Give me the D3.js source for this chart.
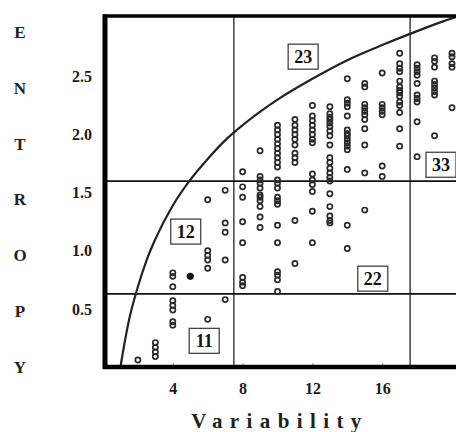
<!DOCTYPE html>
<html>
<head>
<meta charset="utf-8">
<script src="https://cdn.jsdelivr.net/npm/d3@7"></script>
<style>
  body { margin: 0; background: #fff; }
  svg { display: block; }
  .tick text { font-family: "Liberation Serif", "Times New Roman", serif; font-weight: bold; font-size: 16px; fill: #1a1a1a; }
  .tick line { stroke: #888; }
  .zone text { font-family: "Liberation Serif", "Times New Roman", serif; font-weight: bold; font-size: 18px; fill: #111; }
</style>
</head>
<body>
<div id="chart"></div>
<script>
// variability columns and the entropy values read in each column
const variability = [2, 3, 4, 6, 7, 8, 9, 10, 11, 12, 13, 14, 15, 16, 17, 18, 19, 20];
const entropy = [
  [0.06],
  [0.09, 0.13, 0.17, 0.21],
  [0.81, 0.78, 0.69, 0.57, 0.53, 0.49, 0.39, 0.36],
  [1.44, 1.00, 0.96, 0.92, 0.85, 0.41],
  [1.52, 1.24, 1.16, 0.92, 0.58],
  [1.68, 1.55, 1.46, 1.25, 1.07, 0.77, 0.73, 0.70],
  [1.86, 1.64, 1.61, 1.58, 1.54, 1.48, 1.46, 1.43, 1.38, 1.29, 1.20],
  [2.08, 2.04, 2.00, 1.96, 1.92, 1.88, 1.84, 1.80, 1.76, 1.72, 1.61, 1.58, 1.54, 1.46, 1.43, 1.40, 1.22, 1.07, 0.82, 0.79, 0.75, 0.65],
  [2.13, 2.08, 2.04, 2.00, 1.96, 1.91, 1.84, 1.80, 1.76, 1.26, 0.89],
  [2.25, 2.16, 2.12, 2.08, 2.04, 2.00, 1.96, 1.93, 1.66, 1.61, 1.57, 1.51, 1.34, 1.07],
  [2.24, 2.18, 2.15, 2.13, 2.10, 2.07, 2.03, 1.99, 1.91, 1.80, 1.76, 1.71, 1.67, 1.63, 1.60, 1.49, 1.38, 1.30, 1.26, 1.24],
  [2.48, 2.30, 2.27, 2.24, 2.16, 2.04, 2.01, 1.99, 1.96, 1.93, 1.90, 1.87, 1.70, 1.22, 1.02],
  [2.44, 2.41, 2.26, 2.23, 2.20, 2.17, 2.13, 2.05, 1.91, 1.67, 1.35],
  [2.53, 2.26, 2.23, 2.20, 2.17, 1.73, 1.64],
  [2.70, 2.61, 2.57, 2.54, 2.46, 2.41, 2.38, 2.36, 2.33, 2.28, 2.25, 2.19, 2.05, 1.90],
  [2.60, 2.57, 2.54, 2.51, 2.44, 2.34, 2.31, 2.28, 2.11, 1.81],
  [2.66, 2.63, 2.58, 2.46, 2.43, 2.40, 2.37, 2.34, 1.99],
  [2.70, 2.67, 2.61, 2.58, 2.23]
];
// the one filled point
const solidX = [5];
const solidY = [0.78];

// upper bound curve
const boundX = [1, 1.25, 1.5, 2, 2.5, 3, 4, 5, 6, 7, 8, 10, 12, 14, 16, 18, 20, 21];
const boundY = [0, 0.22, 0.41, 0.69, 0.92, 1.10, 1.39, 1.61, 1.79, 1.95, 2.08, 2.30, 2.48, 2.64, 2.77, 2.89, 3.00, 3.04];

// zone dividers
const splitX = [7.5, 17.6];
const splitY = [0.63, 1.6];

// zone labels
const zoneNames = ["23", "33", "12", "11", "22"];
const zoneX = [11.47, 19.37, 4.74, 5.8, 15.46];
const zoneY = [2.67, 1.74, 1.165, 0.225, 0.76];

const xTicks = [4, 8, 12, 16];
const yTicks = [0.5, 1.0, 1.5, 2.0, 2.5];
const yTitle = "ENTROPY".split("");
const xTitle = "Variability";

const W = 456, H = 432;
const margin = { top: 16, left: 103, bottom: 65 };

const svg = d3.select("#chart").append("svg")
  .attr("width", W)
  .attr("height", H);

const x = d3.scaleLinear().domain([0, 20.4]).range([margin.left, margin.left + 20.4 * 17.45]);
const y = d3.scaleLinear().domain([0, 3.02]).range([H - margin.bottom, margin.top]);

// axes (ticks + labels only)
const yaxis = d3.axisLeft(y).tickValues(yTicks).tickFormat(d3.format(".1f")).tickSizeInner(-4).tickSizeOuter(0).tickPadding(11);
const xaxis = d3.axisBottom(x).tickValues(xTicks).tickFormat(d3.format("d")).tickSizeInner(-4).tickSizeOuter(0).tickPadding(16);

svg.append("g").attr("transform", "translate(" + x(0) + ",0)").call(yaxis)
  .call(function(g) { g.select(".domain").remove(); });
svg.append("g").attr("transform", "translate(0," + y(0) + ")").call(xaxis)
  .call(function(g) { g.select(".domain").remove(); });

// divider lines
svg.selectAll(".vsplit").data(splitX).enter().append("line")
  .attr("x1", function(d) { return x(d); }).attr("x2", function(d) { return x(d); })
  .attr("y1", y(3.02)).attr("y2", y(0))
  .attr("stroke", "#111").attr("stroke-width", 1.2);
svg.selectAll(".hsplit").data(splitY).enter().append("line")
  .attr("x1", x(0)).attr("x2", W)
  .attr("y1", function(d) { return y(d); }).attr("y2", function(d) { return y(d); })
  .attr("stroke", "#111").attr("stroke-width", 1.8);

// bound curve
const bound = boundX.map(function(d, i) { return { v: d, e: boundY[i] }; });
const line = d3.line()
  .curve(d3.curveMonotoneX)
  .x(function(d) { return x(d.v); })
  .y(function(d) { return y(d.e); });
svg.append("path")
  .datum(bound)
  .attr("d", line)
  .attr("fill", "none")
  .attr("stroke", "#222")
  .attr("stroke-width", 2.2);

// points
const points = [];
variability.forEach(function(v, i) {
  entropy[i].forEach(function(e) { points.push({ v: v, e: e }); });
});
svg.append("g").selectAll("circle").data(points).enter().append("circle")
  .attr("cx", function(d) { return x(d.v); })
  .attr("cy", function(d) { return y(d.e); })
  .attr("r", 2.6)
  .attr("fill", "none")
  .attr("stroke", "#2a2a2a")
  .attr("stroke-width", 1.7);
svg.append("g").selectAll("circle").data(solidX).enter().append("circle")
  .attr("cx", function(d) { return x(d); })
  .attr("cy", function(d, i) { return y(solidY[i]); })
  .attr("r", 3.6)
  .attr("fill", "#111");

// zone boxes
const zone = svg.selectAll(".zone").data(zoneNames).enter().append("g")
  .attr("class", "zone")
  .attr("transform", function(d, i) { return "translate(" + x(zoneX[i]) + "," + y(zoneY[i]) + ")"; });
zone.append("rect")
  .attr("x", -15).attr("y", -12.5).attr("width", 30).attr("height", 25)
  .attr("fill", "#fff").attr("stroke", "#444").attr("stroke-width", 1.3);
zone.append("text")
  .attr("text-anchor", "middle")
  .attr("dy", "0.36em")
  .text(function(d) { return d; });

// frame
svg.append("line").attr("x1", x(0)).attr("x2", W).attr("y1", y(3.02)).attr("y2", y(3.02))
  .attr("stroke", "#000").attr("stroke-width", 3.5);
svg.append("line").attr("x1", x(0)).attr("x2", W).attr("y1", y(0)).attr("y2", y(0))
  .attr("stroke", "#000").attr("stroke-width", 4.5);
svg.append("line").attr("x1", x(0) + 2).attr("x2", x(0) + 2).attr("y1", y(3.02) - 1.5).attr("y2", y(0) + 2)
  .attr("stroke", "#000").attr("stroke-width", 5);

// y title, one letter per row
svg.append("g").selectAll("text").data(yTitle).enter().append("text")
  .attr("x", 20)
  .attr("y", function(d, i) { return 32 + i * 55.8; })
  .attr("dy", "0.35em")
  .attr("text-anchor", "middle")
  .style("font-family", "'Liberation Serif', 'Times New Roman', serif")
  .style("font-weight", "bold")
  .style("font-size", "17px")
  .attr("fill", "#222")
  .text(function(d) { return d; });

// x title
svg.append("text")
  .attr("x", 280)
  .attr("y", 421)
  .attr("dy", "0.35em")
  .attr("text-anchor", "middle")
  .style("font-family", "'Liberation Serif', 'Times New Roman', serif")
  .style("font-weight", "bold")
  .style("font-size", "21px")
  .style("letter-spacing", "7.4px")
  .attr("fill", "#222")
  .text(xTitle);
</script>
</body>
</html>
